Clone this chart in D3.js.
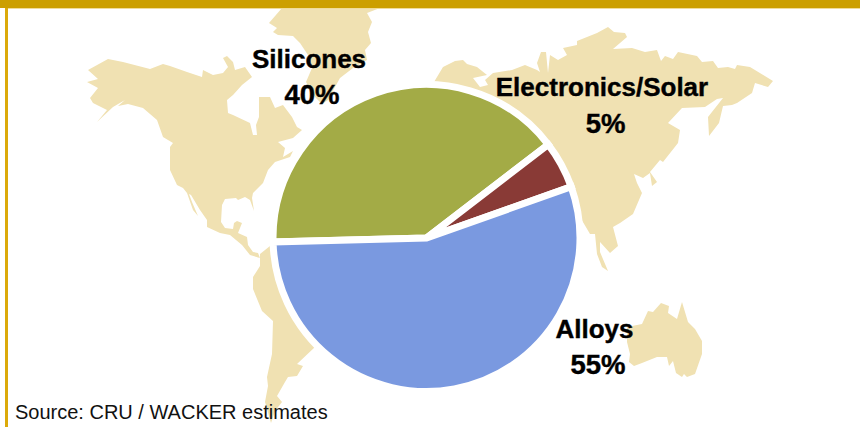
<!DOCTYPE html>
<html>
<head>
<meta charset="utf-8">
<script src="https://cdn.jsdelivr.net/npm/d3@7"></script>
<style>
    html, body { margin: 0; padding: 0; background: #fff; }
    svg { display: block; }
    text { font-family: "Liberation Sans", Arial, sans-serif; }
</style>
</head>
<body>
<svg width="860" height="427"></svg>
<script>
const categories = ["Silicones", "Electronics/Solar", "Alloys"];
const shares = [40, 5, 55];
const sliceColors = ["#a3ab46", "#893a36", "#7a99e0"];

// label spots, one for each category
const labelCenters = [[309, 312], [602, 605.5], [594.5, 598]];
const labelBaselines = [[67.5, 104], [96, 132.5], [338, 374]];

// background map, outlines traced by hand
const greenland = [[282, 8], [269, 23], [277, 28], [273, 32], [278, 35], [293, 36], [300, 43], [308, 55], [312, 68], [306, 82], [315, 97], [322, 104], [328, 100], [335, 87], [340, 78], [353, 68], [367, 60], [365, 50], [371, 43], [368, 32], [372, 22], [367, 13], [380, 8]];
const northAmerica = [[88, 70], [108, 59], [123, 62], [150, 69], [163, 64], [170, 66], [187, 72], [202, 77], [203, 70], [213, 75], [223, 73], [228, 67], [223, 58], [227, 56], [233, 62], [235, 70], [245, 67], [252, 77], [242, 85], [233, 95], [227, 100], [228, 113], [233, 115], [250, 123], [253, 135], [257, 135], [256, 125], [259, 117], [259, 97], [270, 97], [275, 108], [283, 105], [292, 117], [297, 127], [302, 130], [293, 138], [278, 142], [285, 148], [283, 157], [293, 151], [290, 157], [275, 162], [268, 170], [263, 183], [253, 193], [252, 198], [254, 211], [250, 200], [245, 197], [238, 200], [236, 198], [225, 199], [222, 205], [221, 222], [225, 228], [233, 229], [234, 223], [237, 221], [242, 223], [238, 233], [247, 237], [248, 245], [253, 252], [258, 253], [260, 258], [250, 255], [242, 245], [230, 235], [220, 233], [207, 227], [207, 220], [200, 210], [191, 195], [189, 194], [192, 202], [198, 216], [193, 210], [187, 193], [183, 188], [177, 185], [170, 170], [170, 147], [173, 143], [163, 137], [157, 120], [143, 108], [128, 104], [118, 106], [125, 100], [113, 107], [97, 122], [107, 110], [93, 103], [90, 98], [98, 88], [87, 82], [98, 79]];
const southAmerica = [[270, 246], [260, 254], [260, 266], [253, 277], [253, 289], [262, 311], [273, 321], [272, 354], [267, 377], [268, 386], [265, 402], [271, 423], [275, 411], [282, 402], [277, 396], [285, 382], [288, 377], [297, 376], [303, 366], [297, 364], [315, 347], [340, 300], [300, 240]];
const eurasia = [[434, 82], [443, 67], [455, 61], [463, 60], [467, 64], [477, 67], [487, 75], [473, 78], [480, 87], [488, 85], [485, 80], [493, 73], [512, 70], [525, 65], [537, 70], [540, 72], [537, 63], [541, 52], [546, 52], [548, 73], [550, 55], [558, 60], [567, 55], [563, 48], [577, 45], [577, 41], [597, 33], [608, 27], [614, 32], [625, 33], [627, 37], [613, 49], [632, 48], [645, 52], [657, 50], [661, 61], [665, 56], [673, 59], [678, 52], [697, 56], [702, 62], [713, 61], [718, 68], [728, 67], [735, 69], [737, 65], [750, 67], [773, 81], [768, 87], [755, 83], [752, 93], [737, 103], [732, 105], [723, 106], [719, 123], [709, 136], [708, 117], [723, 98], [717, 99], [705, 107], [682, 108], [668, 123], [680, 130], [678, 143], [663, 162], [660, 160], [650, 172], [657, 182], [652, 186], [650, 173], [643, 178], [634, 174], [637, 183], [642, 193], [633, 214], [620, 223], [613, 227], [618, 246], [610, 253], [600, 242], [600, 252], [608, 271], [602, 267], [597, 254], [595, 234], [590, 234], [580, 217], [500, 200]];
const australia = [[627, 327], [642, 324], [648, 311], [653, 312], [661, 303], [669, 306], [668, 313], [677, 319], [682, 302], [688, 322], [695, 329], [702, 341], [702, 354], [695, 374], [687, 377], [684, 374], [682, 377], [676, 373], [673, 361], [669, 366], [667, 357], [657, 357], [647, 361], [642, 363], [634, 366], [629, 362], [630, 354], [627, 342]];

const svg = d3.select("svg");
const width = +svg.attr("width");

// map goes first, pie covers parts of it
const outline = d3.line().curve(d3.curveLinearClosed);
svg.append("g")
    .selectAll("path")
    .data([greenland, northAmerica, southAmerica, eurasia, australia])
    .enter().append("path")
    .attr("d", d => outline(d))
    .attr("fill", "#f0e1b2");

// frame
svg.append("rect").attr("x", 5).attr("y", 0).attr("width", 3).attr("height", 427).attr("fill", "#dcaa0a");
svg.append("rect").attr("x", 8).attr("y", 8).attr("width", width - 8).attr("height", 1).attr("fill", "#f0dc9a");
svg.append("rect").attr("x", 0).attr("y", 0).attr("width", width).attr("height", 8).attr("fill", "#cc9f00");

// pie
const startAngle = -91.5 * Math.PI / 180;
const pie = d3.pie()
    .sort(null)
    .startAngle(startAngle)
    .endAngle(startAngle + 2 * Math.PI);
const arc = d3.arc().innerRadius(0).outerRadius(153.5);

svg.append("g")
    .attr("transform", "translate(426.5, 238)")
    .selectAll("path")
    .data(pie(shares))
    .enter().append("path")
    .attr("d", arc)
    .attr("fill", (d, i) => sliceColors[i])
    .attr("stroke", "#fff")
    .attr("stroke-width", 7);

// labels, the percent line is a bit wider in the original
categories.forEach((name, i) => {
    const lines = [name, shares[i] + "%"];
    lines.forEach((line, k) => {
        svg.append("text")
            .attr("x", labelCenters[i][k])
            .attr("y", labelBaselines[i][k])
            .attr("text-anchor", "middle")
            .attr("font-size", k == 0 ? 26 : 27.5)
            .attr("font-weight", "bold")
            .attr("fill", "#000")
            .attr("stroke", "#000")
            .attr("stroke-width", 0.4)
            .text(line);
    });
});

svg.append("text")
    .attr("x", 15)
    .attr("y", 419)
    .attr("font-size", 20)
    .attr("fill", "#111")
    .text("Source: CRU / WACKER estimates");
</script>
</body>
</html>
